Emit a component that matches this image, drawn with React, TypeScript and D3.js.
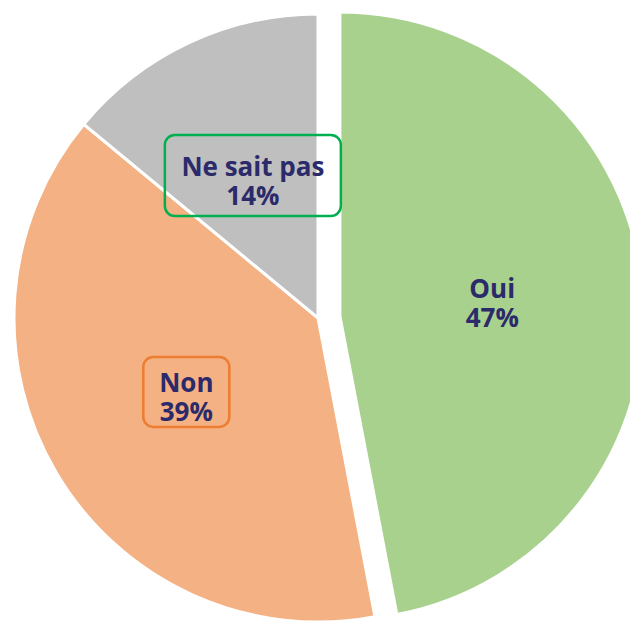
import React from "react";
import * as d3 from "d3";

const categories = ["Oui", "Non", "Ne sait pas"];
const values = [47, 39, 14];
const valueLabels = ["47%", "39%", "14%"];

const colors = ["#a9d18e", "#f4b183", "#bfbfbf"];
const boxStroke = [null, "#ed7d31", "#00b050"];
const boxSize: ([number, number] | null)[] = [null, [86, 70], [176, 81]];
const explode = [22, 0, 0];

const W = 630;
const H = 622;
const cx = 318;
const cy = 318;
const R = 304;
const labelR = 153;

export default function App() {
  const pie = d3
    .pie<number>()
    .sort(null)
    .value((d) => d)
    .startAngle(0)
    .endAngle(2 * Math.PI);
  const arcs = pie(values);
  const arc = d3.arc<d3.PieArcDatum<number>>().innerRadius(0).outerRadius(R);
  const labelArc = d3
    .arc<d3.PieArcDatum<number>>()
    .innerRadius(labelR)
    .outerRadius(labelR);

  return (
    <svg
      width={W}
      height={H}
      style={{ position: "absolute", left: 0, top: 0 }}
      viewBox={`0 0 ${W} ${H}`}
    >
      <rect width={W} height={H} fill="#fff" />
      {arcs.map((a, i) => {
        const mid = (a.startAngle + a.endAngle) / 2;
        const dx = Math.sin(mid) * explode[i];
        const dy = -Math.cos(mid) * explode[i];
        return (
          <g key={"s" + i} transform={`translate(${cx + dx},${cy + dy})`}>
            <path d={arc(a) || ""} fill={colors[i]} stroke="#fff" strokeWidth={3} />
          </g>
        );
      })}
      {arcs.map((a, i) => {
        const mid = (a.startAngle + a.endAngle) / 2;
        const dx = Math.sin(mid) * explode[i];
        const dy = -Math.cos(mid) * explode[i];
        const [lx, ly] = labelArc.centroid(a);
        const x = cx + dx + lx;
        const y = cy + dy + ly;
        const bs = boxSize[i];
        return (
          <g key={"l" + i} transform={`translate(${x},${y})`}>
            {bs && (
              <rect
                x={-bs[0] / 2}
                y={-bs[1] / 2 - 4}
                width={bs[0]}
                height={bs[1]}
                rx={10}
                fill="none"
                stroke={boxStroke[i] || "none"}
                strokeWidth={2.5}
              />
            )}
            <text
              textAnchor="middle"
              fontFamily="'Open Sans', sans-serif"
              fontWeight={700}
              fontSize={26}
              fill="#2b2a6a"
            >
              <tspan x={0} y={-4}>{categories[i]}</tspan>
              <tspan x={0} y={25}>{valueLabels[i]}</tspan>
            </text>
          </g>
        );
      })}
    </svg>
  );
}
